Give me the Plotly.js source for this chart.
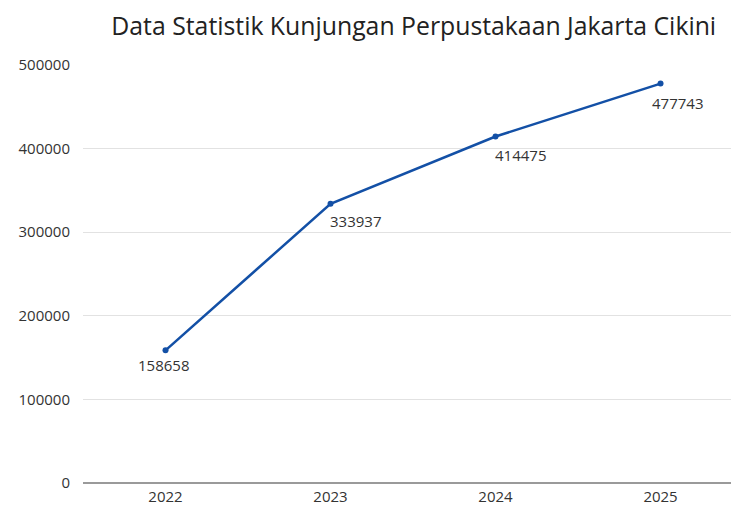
<!DOCTYPE html>
<html>
<head>
<meta charset="utf-8">
<script src="https://cdn.plot.ly/plotly-3.0.1.min.js"></script>
<style>html,body{margin:0;padding:0;background:#fff;}#chart{width:731px;height:506px;}</style>
</head>
<body>
<div id="chart"></div>
<script>
const years = ["2022", "2023", "2024", "2025"];
const visits = [158658, 333937, 414475, 477743];
const yTicks = [0, 100000, 200000, 300000, 400000, 500000];

// label offsets in pixels (style only)
const labelDx = [-2, 25, 25, 17];
const labelDy = [-15, -17, -18, -19];

const trace = {
  x: years,
  y: visits,
  type: "scatter",
  mode: "lines+markers",
  line: {color: "#1350a6", width: 2.5},
  marker: {color: "#1350a6", size: 6},
  cliponaxis: false,
  hoverinfo: "none"
};

const annotations = years.map((yr, i) => ({
  x: i, y: visits[i], xref: "x", yref: "y",
  text: String(visits[i]), showarrow: false,
  xanchor: "center", yanchor: "middle",
  xshift: labelDx[i], yshift: labelDy[i],
  font: {family: "Open Sans", size: 15, color: "#333333"}
}));

const layout = {
  width: 731,
  height: 506,
  margin: {l: 83, r: 0, t: 65, b: 23},
  paper_bgcolor: "#ffffff",
  plot_bgcolor: "#ffffff",
  font: {family: "Open Sans", size: 15, color: "#333333"},
  title: {
    text: "Data Statistik Kunjungan Perpustakaan Jakarta Cikini",
    font: {family: "Open Sans", size: 24.8, color: "#222222"},
    x: 0.566, xanchor: "center", y: 0.947, yanchor: "middle"
  },
  annotations: annotations,
  xaxis: {
    type: "category",
    range: [-0.5, 3.427],
    showgrid: false,
    showline: false,
    zeroline: false,
    ticks: "",
    tickfont: {family: "Open Sans", size: 15, color: "#333333"},
    ticklabelstandoff: 3
  },
  yaxis: {
    range: [0, 500000],
    tickvals: yTicks,
    ticktext: yTicks.map(String),
    showgrid: true,
    gridcolor: "#e2e2e2",
    gridwidth: 1,
    zeroline: true,
    zerolinecolor: "#9a9a9a",
    zerolinewidth: 1.5,
    showline: false,
    ticks: "",
    tickfont: {family: "Open Sans", size: 15, color: "#333333"},
    ticklabelstandoff: 12
  },
  showlegend: false
};

Plotly.newPlot("chart", [trace], layout, {staticPlot: true, displayModeBar: false});
</script>
</body>
</html>
